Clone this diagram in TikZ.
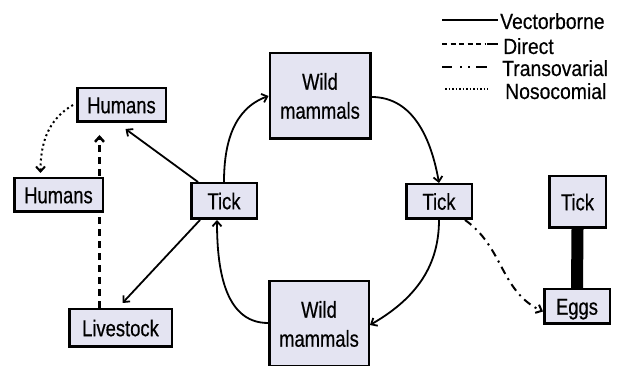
\documentclass[tikz,border=0pt]{standalone}
\usepackage{fontspec}
\setmainfont{Liberation Sans}[FakeStretch=0.8,FakeBold=0.5]
\newfontfamily\legfont{Liberation Sans}[FakeStretch=0.88,FakeBold=0.4]
\usetikzlibrary{arrows.meta,calc,backgrounds}
\definecolor{boxfill}{RGB}{228,228,242}
\begin{document}
\begin{tikzpicture}[x=1pt,y=1pt,
  box/.style={draw=black,line width=2.5pt,fill=boxfill,inner sep=0pt,align=center,
    font=\fontsize{23}{29}\selectfont},
  onebox/.style={box,text height=16.5pt,text depth=0pt},
  conn/.style={line width=1.8pt,-{Straight Barb[length=5pt,width=9pt]}},
  lab/.style={anchor=west,inner sep=0pt,text height=16pt,text depth=0pt,
    font=\legfont\fontsize{22}{22}\selectfont}
]
\clip (0,0) rectangle (621,366);

% nodes
\node[onebox,minimum width=88.5pt,minimum height=33.5pt] (humansT) at (121.5,261) {Humans};
\node[onebox,minimum width=88.5pt,minimum height=33.5pt] (humansL) at (58.5,171) {Humans};
\node[onebox,minimum width=65.5pt,minimum height=35.5pt] (tickL) at (224,165) {Tick};
\node[onebox,minimum width=102.5pt,minimum height=37.5pt] (livestock) at (120.5,38) {Livestock};
\node[box,minimum width=100.5pt,minimum height=85.5pt] (wildT) at (320,270) {Wild\\mammals};
\node[box,minimum width=99.5pt,minimum height=85.5pt] (wildB) at (319,42) {Wild\\mammals};
\node[onebox,minimum width=65.5pt,minimum height=34.5pt] (tickM) at (439,164.5) {Tick};
\node[onebox,minimum width=56.5pt,minimum height=51.5pt] (tickR) at (577.5,164) {Tick};
\node[onebox,minimum width=65.5pt,minimum height=34.5pt] (eggs) at (577,59.5) {Eggs};

% white page and the connector hidden behind the Humans box
\begin{scope}[on background layer]
\fill[white] (0,0) rectangle (621,366);
\draw[conn,line width=2.5pt,dash pattern=on 7pt off 5pt]
  ($(livestock.north)+(-21,0)$) -- ($(humansT.south)+(-22,-12)$);
\end{scope}

% vectorborne
\draw[conn] ($(tickL.north west)+(8,0)$) -- ($(humansT.south)+(4,-6)$);
\draw[conn] ($(tickL.south west)+(10,0)$) -- ($(livestock.north)+(2,5)$);
\draw[conn] (tickL.north) to[out=90,in=200] (wildT.west);
\draw[conn] ($(wildT.east)+(0,-1)$) to[out=0,in=100] (tickM.north);
\draw[conn] (tickM.south) to[out=-90,in=30] ($(wildB.east)+(0,-1)$);
\draw[conn] ($(wildB.west)+(0,1)$) to[out=180,in=-90] ($(tickL.south)+(-7,0)$);

% nosocomial
\draw[conn,line width=2pt,dash pattern=on 2pt off 3pt,shorten >=4pt]
  ($(humansT.west)+(-3,0)$) to[out=210,in=90] ($(humansL.north)+(-18,0)$);

% transovarial
\draw[conn,line width=2pt,dash pattern=on 8pt off 5pt on 2pt off 5pt]
  ($(tickM.south east)+(-8,0)$) to[out=-35,in=155] ($(eggs.west)+(0,-5)$);
\draw[line width=12pt] (tickR.south) -- (eggs.north);

% legend
\draw[line width=2.5pt] (442,346) -- (498,346);
\node[lab] (l1) at (500,345) {Vectorborne};
\draw[line width=2.5pt,dash pattern=on 5pt off 3.5pt] (442,322) -- (485,322);
\draw[line width=2.5pt] (487,322) -- (498,322);
\node[lab] (l2) at (503,320) {Direct};
\draw[line width=2.5pt,dash pattern=on 10pt off 8pt on 2pt off 6pt on 2pt off 6pt on 10pt off 0pt] (442,299) -- (487,299);
\node[lab] (l3) at (502,298) {Transovarial};
\draw[line width=1.5pt,dash pattern=on 1.5pt off 2pt] (445,277) -- (488,277);
\node[lab] (l4) at (505,275) {Nosocomial};
\end{tikzpicture}
\end{document}
